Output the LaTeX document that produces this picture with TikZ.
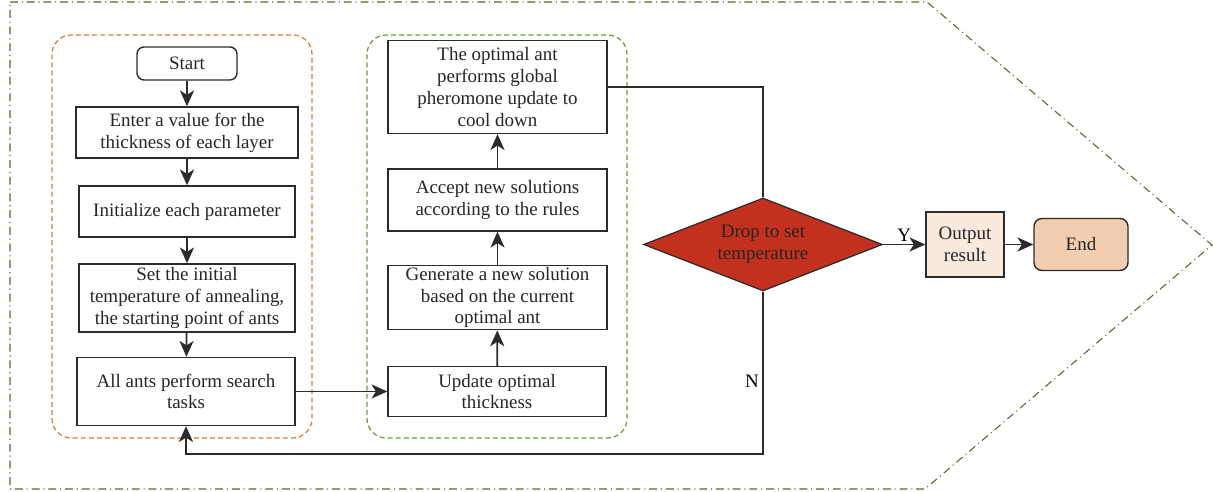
\documentclass[tikz,border=0pt]{standalone}
\usepackage{fontspec}
\setmainfont{Liberation Serif}
\usetikzlibrary{shapes.geometric, arrows.meta, positioning}

\definecolor{linegray}{HTML}{2B2B2B}
\definecolor{dashorange}{HTML}{E07B2A}
\definecolor{dashgreen}{HTML}{6A9A40}
\definecolor{outergreen}{HTML}{4E6B2E}
\definecolor{dropred}{HTML}{C3301E}
\definecolor{outfill}{HTML}{FAE9DD}
\definecolor{endfill}{HTML}{F2CDB0}

\begin{document}
\begin{tikzpicture}[x=0.02cm, y=-0.02cm,
  font=\fontsize{10.8}{12.4}\selectfont,
  box/.style={draw=linegray, rectangle, line width=0.8pt, align=center, inner sep=1pt, text=black!85},
  arr/.style={-{Stealth[length=9pt, width=8pt, inset=2.5pt]}, line width=1pt, draw=linegray},
  link/.style={line width=1pt, draw=linegray}]
\useasboundingbox (0,0) rectangle (1213,492);

% frames
\draw[outergreen, line width=0.6pt, dash pattern=on 4.5pt off 2.2pt on 0.6pt off 2.2pt]
  (10,2) -- (927,2) -- (1212,245) -- (925,489) -- (10,489) -- cycle;
\draw[dashorange, line width=0.7pt, dash pattern=on 2.8pt off 1.8pt, rounded corners=11pt]
  (52,35) rectangle (312,438);
\draw[dashgreen, line width=0.7pt, dash pattern=on 2.8pt off 1.8pt, rounded corners=11pt]
  (367,35) rectangle (627,438);

% left column
\node[box, rounded corners=4pt, minimum width=2cm, minimum height=0.66cm] at (187,63.5) (start) {Start};
\node[box, minimum width=4.44cm, minimum height=1.02cm] at (187,132.5) (enter) {Enter a value for the\\thickness of each layer};
\node[box, minimum width=4.32cm, minimum height=1.02cm] at (187,211.5) (init) {Initialize each parameter};
\node[box, minimum width=4.32cm, minimum height=1.36cm] at (187,298) (setinit) {Set the initial\\temperature of annealing,\\the starting point of ants};
\node[box, minimum width=4.36cm, minimum height=1.36cm] at (186,391.5) (search) {All ants perform search\\tasks};

% right column
\node[box, minimum width=4.36cm, minimum height=1.0cm] at (497,391.5) (update) {Update optimal\\thickness};
\node[box, minimum width=4.38cm, minimum height=1.22cm] at (497.5,297.5) (generate) {Generate a new solution\\based on the current\\optimal ant};
\node[box, minimum width=4.38cm, minimum height=1.24cm] at (497.5,200) (accept) {Accept new solutions\\according to the rules};
\node[box, minimum width=4.38cm, minimum height=1.86cm] at (497.5,87) (optimal) {The optimal ant\\performs global\\pheromone update to\\cool down};

% decision and end
\node[diamond, draw=linegray, line width=0.7pt, fill=dropred, aspect=2.57, inner sep=0pt,
  minimum width=4.78cm, minimum height=1.86cm, align=center, text=black!85] at (763,244.5) (drop) {Drop to set\\temperature};
\node[box, fill=outfill, minimum width=1.56cm, minimum height=1.3cm] at (965,244.5) (output) {Output\\result};
\node[box, fill=endfill, rounded corners=4.5pt, minimum width=1.88cm, minimum height=1.04cm] at (1081,244.5) (finish) {End};

\coordinate (back) at (763,454);
\node at (752,381) (nlabel) {N};

% connectors
\draw[arr] (start) -- (enter);
\draw[arr] (enter) -- (init);
\draw[arr] (init) -- (setinit);
\draw[arr] (setinit) -- (search);
\draw[arr] (search.east) -- (update.west);
\draw[arr] (update) -- (generate);
\draw[arr] (generate) -- (accept);
\draw[arr] (accept) -- (optimal);
\draw[link] (optimal.east) -| (drop.north);
\draw[arr] (drop.south) -- (back) -| (search.south);
\draw[arr] (drop.east) -- node[above, pos=0.5, inner sep=1pt] (ylabel) {Y} (output.west);
\draw[arr] (output.east) -- (finish.west);

\end{tikzpicture}
\end{document}
